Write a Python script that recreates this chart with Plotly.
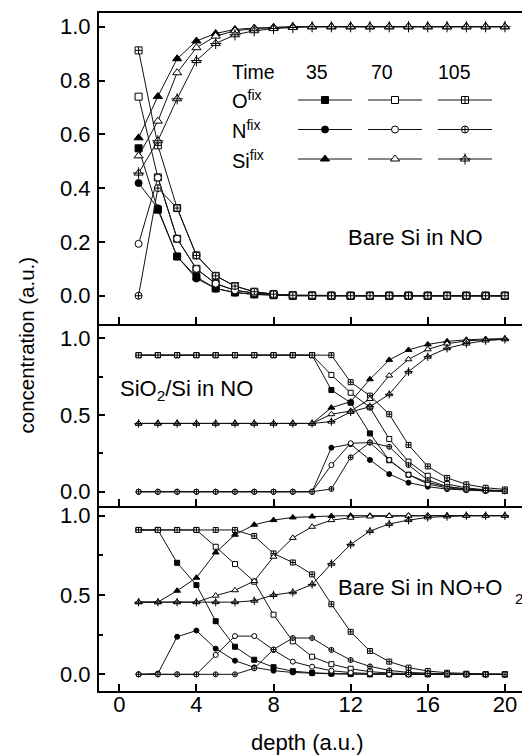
import plotly.graph_objects as go

depth = list(range(1, 21))
times = ["35", "70", "105"]
species = ["O", "N", "Si"]

# ---- Panel 1: Bare Si in NO ----
no_O35 = [0.548, 0.32, 0.146, 0.07, 0.027, 0.012, 0.005, 0.002, 0, 0, 0, 0, 0, 0, 0, 0, 0, 0, 0, 0]
no_O70 = [0.74, 0.44, 0.212, 0.10, 0.045, 0.02, 0.01, 0.004, 0.001, 0, 0, 0, 0, 0, 0, 0, 0, 0, 0, 0]
no_O105 = [0.912, 0.559, 0.326, 0.15, 0.074, 0.036, 0.015, 0.006, 0.002, 0.001, 0, 0, 0, 0, 0, 0, 0, 0, 0, 0]
no_N35 = [0.419, 0.325, 0.146, 0.064, 0.027, 0.012, 0.005, 0.002, 0, 0, 0, 0, 0, 0, 0, 0, 0, 0, 0, 0]
no_N70 = [0.193, 0.439, 0.212, 0.10, 0.045, 0.02, 0.01, 0.004, 0.001, 0, 0, 0, 0, 0, 0, 0, 0, 0, 0, 0]
no_N105 = [0.0, 0.40, 0.326, 0.15, 0.074, 0.036, 0.015, 0.006, 0.002, 0.001, 0, 0, 0, 0, 0, 0, 0, 0, 0, 0]
no_Si35 = [0.587, 0.741, 0.881, 0.947, 0.975, 0.99, 0.995, 0.998, 1, 1, 1, 1, 1, 1, 1, 1, 1, 1, 1, 1]
no_Si70 = [0.52, 0.649, 0.829, 0.922, 0.965, 0.985, 0.993, 0.997, 1, 1, 1, 1, 1, 1, 1, 1, 1, 1, 1, 1]
no_Si105 = [0.456, 0.576, 0.732, 0.874, 0.938, 0.97, 0.985, 0.993, 0.997, 1, 1, 1, 1, 1, 1, 1, 1, 1, 1, 1]

# ---- Panel 2: SiO2/Si in NO ----
ox_O35 = [0.89] * 10 + [0.663, 0.58, 0.38, 0.205, 0.111, 0.06, 0.033, 0.017, 0.01, 0.005]
ox_O70 = [0.89] * 10 + [0.761, 0.645, 0.55, 0.344, 0.196, 0.104, 0.05, 0.025, 0.012, 0.006]
ox_O105 = [0.89] * 11 + [0.714, 0.626, 0.505, 0.305, 0.165, 0.09, 0.048, 0.026, 0.015]
ox_N35 = [0] * 10 + [0.287, 0.31, 0.207, 0.115, 0.059, 0.033, 0.017, 0.01, 0.005, 0.003]
ox_N70 = [0] * 10 + [0.174, 0.316, 0.32, 0.207, 0.111, 0.05, 0.025, 0.012, 0.006, 0.003]
ox_N105 = [0] * 10 + [0.018, 0.224, 0.322, 0.293, 0.174, 0.076, 0.033, 0.017, 0.008, 0.004]
ox_Si35 = [0.445] * 10 + [0.548, 0.587, 0.733, 0.859, 0.924, 0.96, 0.98, 0.99, 0.995, 0.998]
ox_Si70 = [0.445] * 10 + [0.505, 0.526, 0.604, 0.757, 0.863, 0.928, 0.965, 0.983, 0.99, 0.995]
ox_Si105 = [0.445] * 10 + [0.457, 0.52, 0.554, 0.635, 0.783, 0.88, 0.935, 0.965, 0.985, 0.993]

# ---- Panel 3: Bare Si in NO+O2 ----
mx_O35 = [0.91, 0.91, 0.703, 0.563, 0.335, 0.174, 0.092, 0.045, 0.02, 0.01, 0.005, 0.002, 0, 0, 0, 0, 0, 0, 0, 0]
mx_O70 = [0.91, 0.91, 0.91, 0.91, 0.804, 0.695, 0.584, 0.376, 0.208, 0.111, 0.064, 0.035, 0.017, 0.008, 0.004, 0.002, 0, 0, 0, 0]
mx_O105 = [0.91, 0.91, 0.91, 0.91, 0.91, 0.91, 0.872, 0.762, 0.705, 0.63, 0.442, 0.268, 0.147, 0.08, 0.042, 0.021, 0.01, 0.004, 0.002, 0]
mx_N35 = [0, 0.005, 0.237, 0.276, 0.162, 0.086, 0.044, 0.023, 0.012, 0.006, 0.003, 0.001, 0, 0, 0, 0, 0, 0, 0, 0]
mx_N70 = [0, 0, 0, 0, 0.122, 0.241, 0.241, 0.153, 0.08, 0.048, 0.023, 0.011, 0.005, 0.002, 0, 0, 0, 0, 0, 0]
mx_N105 = [0, 0, 0, 0, 0, 0, 0.038, 0.157, 0.229, 0.229, 0.154, 0.09, 0.05, 0.025, 0.012, 0.006, 0.003, 0.001, 0, 0]
mx_Si35 = [0.455, 0.455, 0.527, 0.609, 0.768, 0.88, 0.943, 0.972, 0.989, 0.995, 0.998, 1, 1, 1, 1, 1, 1, 1, 1, 1]
mx_Si70 = [0.455, 0.455, 0.455, 0.455, 0.496, 0.53, 0.588, 0.741, 0.86, 0.93, 0.972, 0.987, 0.995, 0.998, 1, 1, 1, 1, 1, 1]
mx_Si105 = [0.455, 0.455, 0.455, 0.455, 0.455, 0.455, 0.464, 0.5, 0.517, 0.567, 0.697, 0.819, 0.903, 0.948, 0.972, 0.989, 0.995, 1, 1, 1]

panel_labels = ["Bare Si in NO", "SiO<sub>2</sub>/Si in NO", "Bare Si in NO+O"]
x_ticks = [0, 4, 8, 12, 16, 20]
top_y_ticks = [0.0, 0.2, 0.4, 0.6, 0.8, 1.0]
low_y_ticks = [0.0, 0.5, 1.0]
minor_y_ticks = [0.25, 0.75]

panels = [
    {"O": [no_O35, no_O70, no_O105], "N": [no_N35, no_N70, no_N105], "Si": [no_Si35, no_Si70, no_Si105]},
    {"O": [ox_O35, ox_O70, ox_O105], "N": [ox_N35, ox_N70, ox_N105], "Si": [ox_Si35, ox_Si70, ox_Si105]},
    {"O": [mx_O35, mx_O70, mx_O105], "N": [mx_N35, mx_N70, mx_N105], "Si": [mx_Si35, mx_Si70, mx_Si105]},
]

# ---- layout geometry (pixels) ----
W, H = 522, 755
ML, MR, MT, MB = 99, 0, 13, 64
PW = W - ML - MR
PH = H - MT - MB
FONT = "Liberation Sans, Arial, Helvetica, sans-serif"


def px_x(px):
    return (px - ML) / PW


def px_y(py):
    return (H - MB - py) / PH


styles = {
    "O": [("square", "black"), ("square", "white"), ("square-cross", "white")],
    "N": [("circle", "black"), ("circle", "white"), ("circle-cross", "white")],
    "Si": [("triangle-up", "black"), ("triangle-up", "white"), ("triangle-up", "white")],
}
base_size = {"O": 7, "N": 7, "Si": 8}
panel_scale = [1.0, 0.72, 0.72]


def marker_for(sp, ti, size):
    sym, col = styles[sp][ti]
    return dict(symbol=sym, size=size, color=col, line=dict(color="black", width=1))


fig = go.Figure()
axis_ids = [("x", "y"), ("x2", "y2"), ("x3", "y3")]
for p, data in enumerate(panels):
    xa, ya = axis_ids[p]
    for sp in species:
        for ti, t in enumerate(times):
            sz = round(base_size[sp] * panel_scale[p])
            fig.add_trace(go.Scatter(
                x=depth, y=data[sp][ti], mode="lines+markers",
                xaxis=xa, yaxis=ya, name=sp + " " + t, showlegend=False,
                line=dict(color="#111111", width=1),
                marker=marker_for(sp, ti, sz),
            ))
            if sp == "Si" and ti == 2:
                fig.add_trace(go.Scatter(
                    x=depth, y=data[sp][ti], mode="markers",
                    xaxis=xa, yaxis=ya, showlegend=False, hoverinfo="skip",
                    marker=dict(symbol="cross-thin", size=sz,
                                line=dict(color="black", width=1)),
                ))

# ---- key (legend) drawn on a hidden numeric axis pair: column = time index, row = species index ----
for si, sp in enumerate(species):
    row = len(species) - 1 - si
    for ti, t in enumerate(times):
        sz = base_size[sp]
        fig.add_trace(go.Scatter(
            x=[ti], y=[row], mode="markers", xaxis="x4", yaxis="y4",
            name=sp + " " + t, showlegend=False, hoverinfo="name",
            marker=marker_for(sp, ti, sz),
            error_x=dict(visible=True, type="constant", value=0.386, symmetric=True,
                         width=0, thickness=1.2, color="#111111"),
        ))
        if sp == "Si" and ti == 2:
            fig.add_trace(go.Scatter(
                x=[ti], y=[row], mode="markers", xaxis="x4", yaxis="y4",
                showlegend=False, hoverinfo="skip",
                marker=dict(symbol="cross-thin", size=sz, line=dict(color="black", width=1)),
            ))

doms = [(px_y(324), 1.0), (px_y(506), px_y(324)), (0.0, px_y(506))]
yranges = [[-0.105, 1.051], [-0.093, 1.093], [-0.105, 1.061]]
xr = [(ML - 119.3) / 19.28, (W - 119.3) / 19.28]

axis_common = dict(showgrid=False, zeroline=False, showline=True, linewidth=2,
                   linecolor="black", ticks="inside", tickcolor="black",
                   tickfont=dict(family=FONT, size=22, color="black"))
layout = dict(
    width=W, height=H, margin=dict(l=ML, r=MR, t=MT, b=MB),
    paper_bgcolor="white", plot_bgcolor="white",
    font=dict(family=FONT, color="black"),
    hovermode="closest", showlegend=False,
)
for p in range(3):
    sx = "" if p == 0 else str(p + 1)
    layout["xaxis" + sx] = dict(axis_common, domain=[0, 1], range=xr, anchor="y" + sx,
                                tickvals=x_ticks, ticklen=7, tickwidth=1.5,
                                showticklabels=(p == 2), mirror=(p == 0),
                                ticklabelstandoff=-7)
    ya = dict(axis_common, domain=list(doms[p]), range=yranges[p], anchor="x" + sx,
              ticklen=6, tickwidth=1.5, tickformat=".1f", ticklabelstandoff=2)
    if p == 0:
        ya["tickvals"] = top_y_ticks
    else:
        ya["tickvals"] = low_y_ticks
        ya["minor"] = dict(tickvals=minor_y_ticks, ticks="inside", ticklen=4,
                           tickwidth=1.5, tickcolor="black")
    layout["yaxis" + sx] = ya

# key axes: column centres 325/395/465 px, row centres 100/129.5/159 px
layout["xaxis4"] = dict(range=[-0.5, 2.5], domain=[px_x(290), px_x(500)],
                        anchor="y4", visible=False, fixedrange=True)
layout["yaxis4"] = dict(range=[-0.5, 2.5], domain=[px_y(173.75), px_y(85.25)],
                        anchor="x4", visible=False, fixedrange=True)

ann = []


def add_ann(text, px, py, size, xanchor="left", yanchor="middle", **kw):
    ann.append(dict(text=text, x=px_x(px), y=px_y(py), xref="paper", yref="paper",
                    xanchor=xanchor, yanchor=yanchor, showarrow=False,
                    font=dict(family=FONT, size=size, color="black"), **kw))


add_ann("Time", 230, 72, 19.5)
for t, cx in zip(times, [317, 382, 454]):
    add_ann(t, cx, 72, 19.5, xanchor="center")
for sp, ry in zip(species, [100, 129.5, 159]):
    add_ann(sp + "<sup>fix</sup>", 230, ry, 20)
add_ann(panel_labels[0], 415.5, 237, 22, xanchor="center")
add_ann(panel_labels[1], 118, 390, 22)
add_ann(panel_labels[2], 336, 587, 22)
add_ann("2", 513, 598, 15)
add_ann("concentration (a.u.)", 25.5, 345, 20.5, xanchor="center", textangle=-90)
add_ann("depth (a.u.)", 307.5, 742, 22, xanchor="center")
layout["annotations"] = ann

fig.update_layout(**layout)
fig.write_html("out.html", config={"displayModeBar": False},
               post_script="document.body.style.margin='0px';")
